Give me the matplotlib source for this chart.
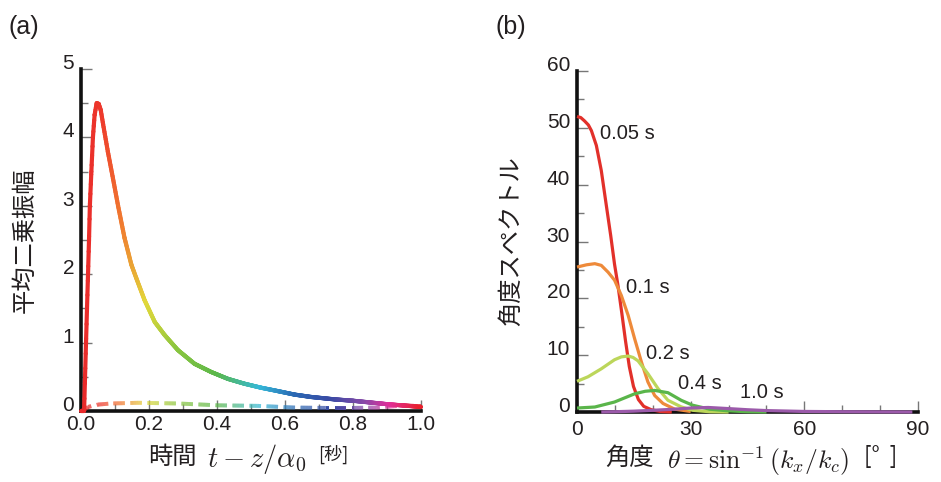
"""Mean-square amplitude vs time (a) and angular spectrum (b)."""

import matplotlib

matplotlib.use("Agg")
import matplotlib.pyplot as plt
import numpy as np
from matplotlib.collections import LineCollection
from matplotlib.colors import LinearSegmentedColormap
from matplotlib.ticker import MultipleLocator

# ---- data ----
# (a) mean-square amplitude, solid and dashed curves
t_solid = [0.0, 0.009, 0.0118, 0.0147, 0.0176, 0.0206, 0.0235, 0.026, 0.0304, 0.035,
           0.04, 0.046, 0.052, 0.058, 0.0647, 0.079, 0.094, 0.109, 0.128, 0.148,
           0.162, 0.187, 0.217, 0.246, 0.285, 0.334, 0.383, 0.432, 0.48, 0.53,
           0.58, 0.628, 0.677, 0.746, 0.8, 0.85, 0.9, 0.95, 1.0]
msa_solid = [0.0, 0.0, 0.5, 1.0, 1.5, 2.0, 2.5, 3.0, 3.5, 4.0,
             4.33, 4.5, 4.49, 4.4, 4.2, 3.79, 3.4, 3.0, 2.53, 2.14,
             1.95, 1.62, 1.30, 1.11, 0.89, 0.69, 0.57, 0.47, 0.40, 0.34,
             0.29, 0.24, 0.205, 0.17, 0.15, 0.125, 0.10, 0.08, 0.06]
t_dash = [0.0, 0.01, 0.021, 0.05, 0.089, 0.168, 0.285, 0.403, 0.52, 0.628, 0.72,
          0.8, 0.87, 0.92, 0.96, 1.0]
msa_dash = [0.0, 0.02, 0.06, 0.094, 0.11, 0.12, 0.11, 0.083, 0.075, 0.05, 0.045,
            0.045, 0.05, 0.07, 0.08, 0.07]

# (b) angular spectra at several times
theta_005 = [0, 1, 2, 3, 3.8, 5.1, 6.4, 7.7, 8.9, 9.9, 10.8, 11.8, 12.8, 13.8, 14.9,
             16.2, 17.6, 19.6, 22, 25]
spec_005 = [52, 51.8, 51.2, 50.5, 49.5, 46.9, 42.5, 36.5, 31, 26, 22.3, 17.5, 12.5,
            8.0, 4.5, 2.2, 1.0, 0.4, 0.1, 0]
theta_01 = [0, 2.5, 4.7, 6.4, 8.2, 9.9, 11.7, 13.5, 15.2, 17.0, 18.7, 20.5, 22.7, 25.8, 30]
spec_01 = [25.5, 25.9, 26.1, 25.8, 24.6, 23.2, 20.5, 17.0, 12.9, 8.8, 5.3, 2.9, 1.5, 0.5, 0.1]
theta_02 = [0, 2.9, 6.4, 9.9, 11.7, 13.5, 14.8, 16.1, 18.7, 21.4, 24.0, 27.5, 30.5, 35, 40]
spec_02 = [5.4, 6.2, 7.6, 9.2, 9.7, 9.85, 9.6, 9.0, 6.75, 4.1, 2.06, 0.9, 0.3, 0.05, 0]
theta_04 = [0, 4.7, 9.9, 15.2, 18, 20.5, 24.0, 27.5, 30.5, 35, 40, 45, 50]
spec_04 = [0.7, 0.88, 1.76, 3.2, 3.65, 3.8, 3.4, 2.06, 1.2, 0.5, 0.2, 0.05, 0]
theta_10 = [6.4, 10, 15, 20, 25.8, 30, 34.6, 40, 45, 50, 60, 70, 80, 88.5]
spec_10 = [0, 0.05, 0.15, 0.3, 0.5, 0.7, 0.8, 0.6, 0.4, 0.25, 0.1, 0.05, 0.02, 0.0]
time_labels = ["0.05 s", "0.1 s", "0.2 s", "0.4 s", "1.0 s"]

# ---- style ----
CJK = ["Noto Sans CJK JP", "Liberation Sans", "DejaVu Sans"]
TXT = "#231f20"
rainbow = LinearSegmentedColormap.from_list("rainbow_t", [
    (0.00, "#e8282a"), (0.06, "#ee3a2c"), (0.12, "#f07d30"), (0.19, "#e2d83a"),
    (0.28, "#8cc63f"), (0.40, "#5cb84a"), (0.53, "#35b8d8"), (0.63, "#2a6ab4"),
    (0.74, "#3a4aa4"), (0.84, "#8a48a8"), (0.91, "#e0309a"), (1.00, "#e8202c"),
])
spec_colors = ["#e2302a", "#ee8a3a", "#bcd65a", "#5ab54a", "#9b5aaa"]

plt.rcParams["font.family"] = ["Liberation Sans", "DejaVu Sans"]
plt.rcParams["mathtext.fontset"] = "cm"

fig = plt.figure(figsize=(9.41, 4.82), dpi=100)
ax_a = fig.add_axes([0.0861, 0.1473, 0.3613, 0.7095])
ax_b = fig.add_axes([0.6132, 0.1452, 0.3624, 0.7075])


def style_axes(ax):
    for side in ("top", "right"):
        ax.spines[side].set_visible(False)
    for side in ("left", "bottom"):
        ax.spines[side].set_linewidth(2.6)
        ax.spines[side].set_color("#111111")
    ax.tick_params(which="both", direction="in", color="#777777", width=1.0,
                   labelcolor=TXT, labelsize=15)
    ax.tick_params(which="major", length=8)
    ax.tick_params(which="minor", length=5)
    ax.tick_params(axis="y", pad=5)


def rainbow_line(ax, x, y, dashed=False):
    xs = np.union1d(np.linspace(x[0], x[-1], 800), x)  # subdivide only for the colour gradient
    ys = np.interp(xs, x, y)
    pts = np.column_stack([xs, ys])
    segs = np.stack([pts[:-1], pts[1:]], axis=1)
    mids = 0.5 * (xs[:-1] + xs[1:])
    if dashed:
        pix = ax.transData.transform(pts)
        s = np.concatenate([[0], np.cumsum(np.hypot(*np.diff(pix, axis=0).T))])
        smid = 0.5 * (s[:-1] + s[1:])
        keep = (smid % 17.0) < 11.5
        segs, mids = segs[keep], mids[keep]
    lc = LineCollection(segs, colors=rainbow(mids), linewidths=2.8 if dashed else 3.0,
                        capstyle="butt" if dashed else "round", zorder=3, clip_on=False)
    ax.add_collection(lc)


# ---- (a) ----
ax_a.set_xlim(0, 1)
ax_a.set_ylim(0, 5)
style_axes(ax_a)
ax_a.set_xticks(np.arange(0, 1.01, 0.2))
ax_a.set_xticklabels([f"{v:.1f}" for v in np.arange(0, 1.01, 0.2)])
ax_a.set_yticks(range(6))
ax_a.xaxis.set_minor_locator(MultipleLocator(0.1))
ax_a.yaxis.set_minor_locator(MultipleLocator(0.5))
ax_a.tick_params(axis="x", pad=3)
rainbow_line(ax_a, t_solid, msa_solid)
rainbow_line(ax_a, t_dash, msa_dash, dashed=True)
ax_a.set_ylabel("平均二乗振幅", family=CJK, fontsize=17.5, color=TXT, labelpad=18)

# ---- (b) ----
ax_b.set_xlim(0, 90)
ax_b.set_ylim(0, 60)
style_axes(ax_b)
ax_b.set_xticks([0, 30, 60, 90])
ax_b.set_yticks(range(0, 61, 10))
ax_b.xaxis.set_minor_locator(MultipleLocator(10))
ax_b.yaxis.set_minor_locator(MultipleLocator(5))
ax_b.tick_params(axis="x", pad=6)
series = [(theta_005, spec_005), (theta_01, spec_01), (theta_02, spec_02),
          (theta_04, spec_04), (theta_10, spec_10)]
for (th, sp), c in zip(series, spec_colors):
    ax_b.plot(th, sp, color=c, lw=2.3, zorder=3, clip_on=False,
              solid_capstyle="butt", solid_joinstyle="round")
label_pos = [(6.0, 49.0), (13.0, 21.9), (18.3, 10.3), (26.6, 5.05), (43.1, 3.47)]
for lab, (lx, ly) in zip(time_labels, label_pos):
    ax_b.text(lx, ly, lab, fontsize=14.5, color=TXT, ha="left", va="center", zorder=4)
ax_b.set_ylabel("角度スペクトル", family=CJK, fontsize=17.5, color=TXT, labelpad=16)

for ax in (ax_a, ax_b):
    for lbl in ax.get_yticklabels():
        lbl.set_va("baseline")

# ---- x labels and panel tags ----
fig.text(148 / 941, 1 - 457 / 482, "時間", family=CJK, fontsize=17.5, color=TXT,
         ha="left", va="center")
fig.text(207 / 941, 1 - 459 / 482, r"$t - z/\alpha_0$", fontsize=20.5, color=TXT,
         ha="left", va="center")
fig.text(318 / 941, 1 - 454 / 482, "[秒]", family=CJK, fontsize=13, color=TXT,
         ha="left", va="center")
fig.text(605 / 941, 1 - 458 / 482, "角度", family=CJK, fontsize=17.5, color=TXT,
         ha="left", va="center")
fig.text(667 / 941, 1 - 461 / 482, r"$\theta = \sin^{-1}(k_x/k_c)$", fontsize=18.5,
         color=TXT, ha="left", va="center")
fig.text(864 / 941, 1 - 457 / 482, "[°  ]", family=CJK, fontsize=16, color=TXT,
         ha="left", va="center")
fig.text(8 / 941, 1 - 27 / 482, "(a)", fontsize=18, color=TXT, ha="left", va="center")
fig.text(496 / 941, 1 - 27 / 482, "(b)", fontsize=18, color=TXT, ha="left", va="center")

fig.savefig("out.png", dpi=100)
plt.close(fig)
